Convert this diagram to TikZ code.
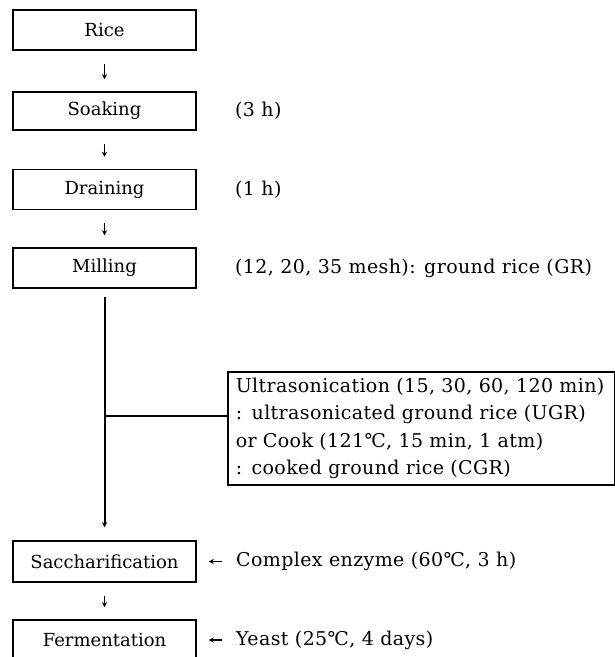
\documentclass[tikz,border=0pt]{standalone}
\usepackage{fontspec}
\setmainfont{DejaVu Serif}
\newfontfamily\widefont[LetterSpace=2]{DejaVu Serif}
\usepackage{tikz}
\usetikzlibrary{arrows.meta}

\begin{document}
\begin{tikzpicture}[x=1pt, y=-1pt, font=\fontsize{18}{27}\selectfont,
    box/.style={draw, line width=1.5pt, minimum width=183pt, minimum height=40pt, inner sep=0pt},
    note/.style={anchor=west, inner sep=0pt, font=\widefont\fontsize{19}{27}\selectfont},
    down/.style={line width=1.5pt, -{Stealth[length=5pt, width=5pt]}, shorten <=13pt, shorten >=12pt}]
  \useasboundingbox (0,0) rectangle (615,657);
  \node (rice) [box] at (104.5,30) {Rice};
  \node (soak) [box, minimum height=38pt] at (104.5,111) {Soaking};
  \node (drain) [box] at (104.5,189.5) {Draining};
  \node (mill) [box] at (104.5,268) {Milling};
  \node (sacch) [box, minimum height=41pt] at (104.5,561.5) {Saccharification};
  \node (ferm) [box] at (104.5,640) {Fermentation};
  \node (t3h) [note] at (235,111) {(3 h)};
  \node (t1h) [note] at (235,189.5) {(1 h)};
  \node (tmesh) [note] at (235,268) {(12, 20, 35 mesh): ground rice (GR)};
  \node (ultra) [draw, line width=1.5pt, align=left, anchor=west, inner xsep=8pt,
    text width=371pt, minimum height=113pt, font=\widefont\fontsize{19}{27.5}\selectfont] at (227,428.5)
    {Ultrasonication (15, 30, 60, 120 min)\\
     : ultrasonicated ground rice (UGR)\\
     or Cook (121℃, 15 min, 1 atm)\\
     : cooked ground rice (CGR)};
  \node (enzyme) [note] at (236,561.5) {Complex enzyme (60℃, 3 h)};
  \node (yeast) [note] at (236,640) {Yeast (25℃, 4 days)};
  \coordinate (branch) at (104.5,416);
  \draw (rice) edge [down] (soak);
  \draw (soak) edge [down] (drain);
  \draw (drain) edge [down] (mill);
  \draw (mill) edge [line width=2pt, -{Stealth[length=5pt, width=5pt]}, shorten <=8pt, shorten >=13pt] (sacch);
  \draw (branch) edge [line width=2pt] (branch -| ultra.west);
  \draw (sacch) edge [down] (ferm);
  \draw (enzyme.west) edge [line width=1.5pt, -{Stealth[length=5pt, width=5pt]}, shorten <=14pt, shorten >=12pt] (sacch.east);
  \draw (yeast.west) edge [line width=1.5pt, -{Stealth[length=5pt, width=5pt]}, shorten <=14pt, shorten >=12pt] (ferm.east);
\end{tikzpicture}
\end{document}
